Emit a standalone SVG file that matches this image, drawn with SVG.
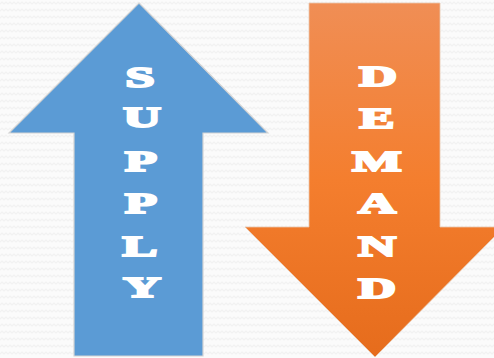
<svg xmlns="http://www.w3.org/2000/svg" width="494" height="358" viewBox="0 0 494 358">
  <defs>
    <pattern id="zig" width="8" height="7" patternUnits="userSpaceOnUse">
      <rect width="8" height="7" fill="#fbfbfb"/>
      <path d="M0,4 L2,2 L4,4 L6,2 L8,4" fill="none" stroke="#f2f2f2" stroke-width="1.2"/>
    </pattern>
    <linearGradient id="orange" x1="0" y1="0" x2="0" y2="1">
      <stop offset="0" stop-color="#F08E55"/>
      <stop offset="0.5" stop-color="#F47E2E"/>
      <stop offset="1" stop-color="#E66C1C"/>
    </linearGradient>
    <style>
      .lbl { font-family: "Liberation Serif", "DejaVu Serif", serif; font-weight: bold; font-size: 29px; fill: #ffffff; stroke: #ffffff; stroke-width: 2; stroke-linejoin: miter; text-anchor: middle; }
    </style>
  </defs>
  <rect width="494" height="358" fill="url(#zig)"/>
  <g id="supply">
    <path d="M139,3 L268,133 L203,133 L203,356 L74,356 L74,133 L9,133 Z" fill="#5B9BD5" stroke="#d4d4d4" stroke-width="1.2"/>
    <text class="lbl" transform="translate(140,87) scale(1.8,1)">S</text>
    <text class="lbl" transform="translate(142,127) scale(1.8,1)">U</text>
    <text class="lbl" transform="translate(141,171) scale(1.8,1)">P</text>
    <text class="lbl" transform="translate(141,213) scale(1.8,1)">P</text>
    <text class="lbl" transform="translate(140,256) scale(1.8,1)">L</text>
    <text class="lbl" transform="translate(142,297) scale(1.8,1)">Y</text>
  </g>
  <g id="demand">
    <path d="M309,3 L440,3 L440,227 L504,227 L375,357 L245,227 L309,227 Z" fill="url(#orange)" stroke="#e8c8b0" stroke-width="0.8"/>
    <text class="lbl" transform="translate(378,86) scale(1.8,1)">D</text>
    <text class="lbl" transform="translate(377,128) scale(1.8,1)">E</text>
    <text class="lbl" transform="translate(377,171) scale(1.8,1)">M</text>
    <text class="lbl" transform="translate(377,213) scale(1.8,1)">A</text>
    <text class="lbl" transform="translate(377,256) scale(1.8,1)">N</text>
    <text class="lbl" transform="translate(377,298) scale(1.8,1)">D</text>
  </g>
  <g id="connectors"/>
</svg>
